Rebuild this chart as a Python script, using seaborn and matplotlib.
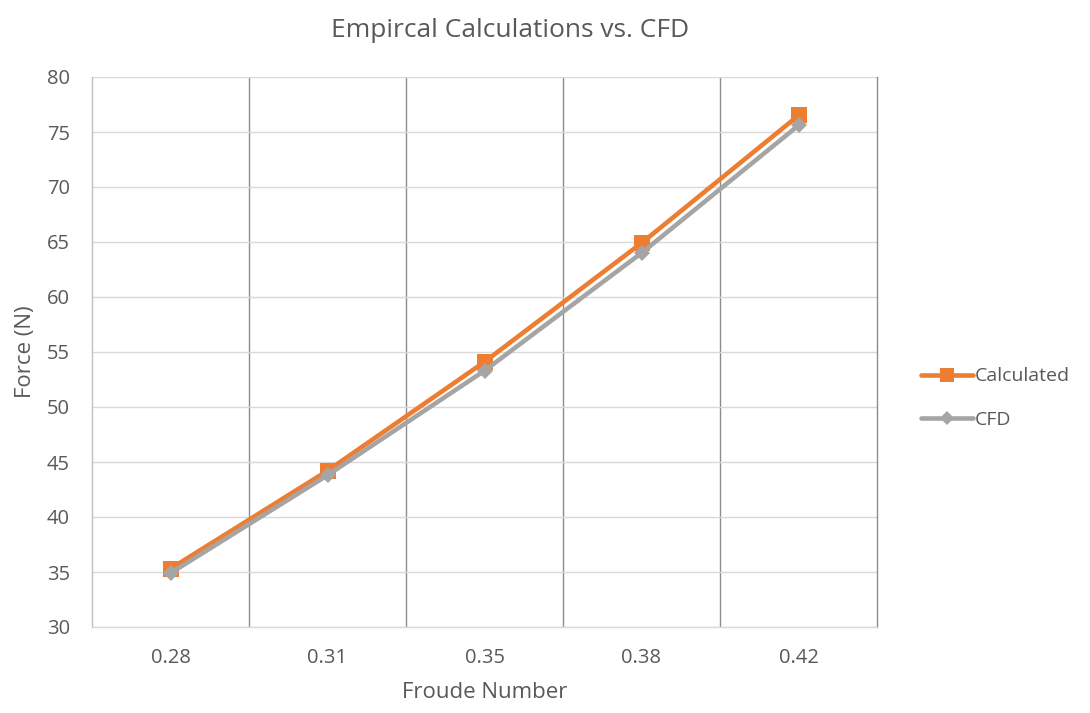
import matplotlib
matplotlib.use("Agg")
import matplotlib.pyplot as plt
from matplotlib.lines import Line2D
import seaborn as sns
import pandas as pd
import numpy as np

froude = ["0.28", "0.31", "0.35", "0.38", "0.42"]
calculated = [35.3, 44.2, 54.1, 64.9, 76.5]
cfd = [34.9, 43.8, 53.3, 64.0, 75.6]

sns.set_style("white")
plt.rcParams["font.family"] = ["Open Sans", "DejaVu Sans"]

TEXT = "#595959"
ORANGE = "#ED7D31"
GRAY = "#A5A5A5"

idx = np.arange(len(froude))
df = pd.DataFrame({
    "pos": np.concatenate([idx, idx]),
    "Force": calculated + cfd,
    "Series": ["Calculated"] * len(froude) + ["CFD"] * len(froude),
})

fig = plt.figure(figsize=(10.9, 7.13), dpi=100)
ax = fig.add_axes([92 / 1090, 86 / 713, (877 - 92) / 1090, (627 - 77) / 713])

sns.lineplot(data=df, x="pos", y="Force", hue="Series", style="Series",
             palette={"Calculated": ORANGE, "CFD": GRAY},
             markers={"Calculated": "s", "CFD": "D"}, dashes=False,
             linewidth=3.3, markeredgewidth=0, ax=ax, legend=False)
for line, ms in zip(ax.lines, [11, 8]):
    line.set_markersize(ms)
    line.set_solid_capstyle("round")

ax.set_xlim(-0.5, len(froude) - 0.5)
ax.set_ylim(30, 80)
ax.set_yticks(np.arange(30, 81, 5))
ax.set_xticks(idx)
ax.set_xticklabels(froude)
ax.set_xticks(idx[:-1] + 0.5, minor=True)

ax.grid(axis="y", color="#D9D9D9", linewidth=1)
ax.grid(axis="x", which="minor", color="#8C8C8C", linewidth=1)
ax.grid(axis="x", which="major", visible=False)
ax.set_axisbelow(True)

ax.spines["top"].set_visible(False)
ax.spines["left"].set_color("#BFBFBF")
ax.spines["bottom"].set_color("#D9D9D9")
ax.spines["right"].set_color("#8C8C8C")
for s in ax.spines.values():
    s.set_linewidth(1)

ax.tick_params(axis="both", which="both", length=0, labelsize=14.5, colors=TEXT)
ax.tick_params(axis="x", pad=15)
ax.tick_params(axis="y", pad=16)

ax.set_xlabel("Froude Number", fontsize=16, color=TEXT, labelpad=10)
ax.set_ylabel("Force (N)", fontsize=16, color=TEXT, labelpad=8)
fig.suptitle("Empircal Calculations vs. CFD", fontsize=19, color=TEXT,
             x=510 / 1090, y=0.975)

handles = [
    Line2D([], [], color=ORANGE, lw=3.3, marker="s", markersize=10, markeredgewidth=0),
    Line2D([], [], color=GRAY, lw=3.3, marker="D", markersize=7, markeredgewidth=0),
]
fig.legend(handles, ["Calculated", "CFD"], loc="center left",
           bbox_to_anchor=(903 / 1090, 1 - 398 / 713), frameon=False,
           fontsize=14, labelcolor=TEXT, handlelength=2.7, handletextpad=0.1,
           labelspacing=1.3)

fig.savefig("out.png", dpi=100)
